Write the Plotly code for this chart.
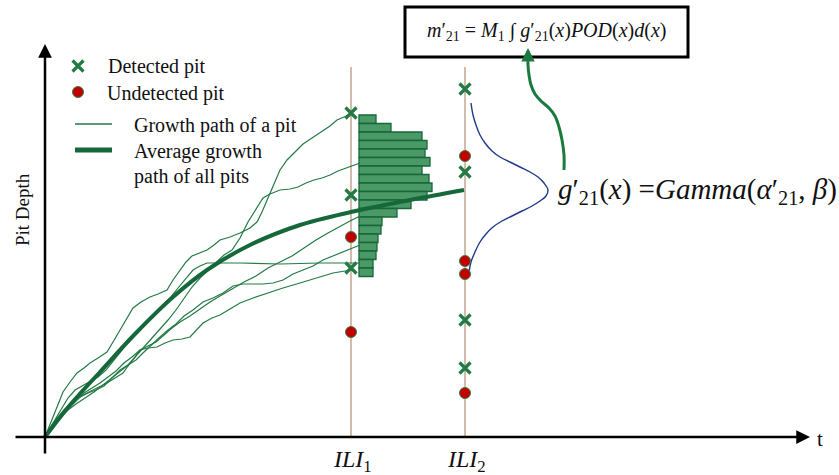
import numpy as np
import plotly.graph_objects as go

# ---- reference frame (origin of the axes) ----
T0, D0 = 45, 437
def tx(v):
    return np.asarray(v, dtype=float) - T0
def dy(v):
    return D0 - np.asarray(v, dtype=float)

# ---- inspection times ----
ili_labels = ["ILI<sub>1</sub>", "ILI<sub>2</sub>"]
ili_t_px = [351, 465]

# ---- pits observed at each inspection (depth readings) ----
ili1_detected = [113, 195, 268]
ili1_undetected = [237, 332]
ili2_detected = [89, 172, 320, 368]
ili2_undetected = [156, 261, 274, 393]

# ---- individual growth paths ----
p1_t = [45,52,58,63,70,77,84,90,98,107,113,120,127,133,141,150,158,167,173,180,186,192,200,207,214,220,230,240,250,257,262,267,273,280,287,295,303,312,320,330,337,345,351]
p1_d = [437,420,405,392,382,373,368,363,358,352,342,330,318,308,302,297,294,290,280,270,262,256,253,250,245,240,237,233,228,222,212,200,185,170,160,152,144,138,133,126,120,117,114]
p2_t = [45,53,60,68,76,85,94,103,112,120,128,136,144,152,160,168,176,184,192,200,208,216,224,232,240,248,257,263,270,280,290,298,306,314,322,330,338,346,352,360]
p2_d = [437,428,418,410,404,398,392,385,378,372,365,356,347,339,330,320,310,298,287,278,270,262,255,250,238,222,207,198,194,190,189,187,183,180,178,175,171,168,166,163]
p3_t = [45,52,60,68,76,84,92,100,108,116,124,132,140,148,156,164,172,180,190,200,210,220,232,244,256,268,280,292,304,316,328,340,350,360]
p3_d = [437,426,416,408,400,393,388,383,377,371,363,357,350,346,342,335,328,322,316,309,302,296,289,282,276,268,262,256,248,240,233,226,221,216]
p4_t = [45,50,56,62,68,75,82,90,98,106,114,122,130,138,146,154,162,170,178,186,193,200,207,240,280,320,360]
p4_d = [437,428,418,408,398,390,386,382,377,370,360,350,340,330,322,314,306,298,288,278,270,266,263,263,264,263,263]
p5_t = [45,50,57,64,72,80,88,96,104,112,120,128,136,144,152,160,168,176,184,193,203,213,223,233,243,253,263,273,283,293,303,313,323,333,343,352,360]
p5_d = [437,428,418,410,402,397,393,390,386,378,370,365,360,352,344,337,330,324,316,310,302,298,293,286,284,284,284,283,280,274,270,266,260,256,252,249,245]
p6_t = [45,49,53,60,67,74,80,87,93,100,107,115,123,128,133,140,148,157,165,173,182,190,197,203,212,220,230,240,253,267,283,300,316,333,345,353]
p6_d = [437,430,423,416,410,403,397,393,390,386,383,378,373,366,360,350,348,347,343,340,339,337,330,323,318,315,309,303,298,293,288,283,278,273,271,270]

# ---- average growth path ----
avg_t = [45,70,100,135,173,207,250,300,351,410,464]
avg_d = [437,405,372,334,297,270,245,225,212,200,190]

# ---- histogram of depths at ILI1 ----
hist_top = 115
hist_bin = 8.5
hist_base = 359
hist_counts = [17,32,63,68,66,71,63,70,73,68,52,38,23,22,19,18,17,14,14]

# ---- gamma density at ILI2 ----
pdf_val = [471,473,476,480,485,492,500,510,520,530,538,544,548,546,540,532,522,512,502,493,486,480,475,471,469]
pdf_d = [103,115,125,135,143,151,157,162,167,172,177,183,190,196,201,206,211,216,221,227,234,242,252,262,272]

# ---- callout connector ----
call_t = [564,564,562,559,555,549,541,535,531,529,528,528]
call_d = [170,155,140,127,116,108,101,94,85,75,65,58]

GREEN = "#237a45"
DKGREEN = "#15683a"
RED = "#c00000"
TAN = "#c5a68e"
SERIF = "Liberation Serif, Times New Roman, Times, serif"

fig = go.Figure()

# inspection lines
for t in ili_t_px:
    fig.add_trace(go.Scatter(x=tx([t, t]), y=dy([67, D0]), mode="lines",
                             line=dict(color=TAN, width=1.5), hoverinfo="skip"))

# histogram
centers = [hist_top + hist_bin * (i + 0.5) for i in range(len(hist_counts))]
fig.add_trace(go.Bar(x=hist_counts, y=dy(centers), base=float(tx(hist_base)),
                     orientation="h", width=hist_bin,
                     marker=dict(color="#4b9966", line=dict(color="#17683a", width=1.3))))

# thin growth paths
for pt, pd_ in [(p1_t, p1_d), (p2_t, p2_d), (p3_t, p3_d), (p4_t, p4_d), (p5_t, p5_d), (p6_t, p6_d)]:
    fig.add_trace(go.Scatter(x=tx(pt), y=dy(pd_), mode="lines",
                             line=dict(color=GREEN, width=1.2), hoverinfo="skip"))

# average path
fig.add_trace(go.Scatter(x=tx(avg_t), y=dy(avg_d), mode="lines", line_shape="spline",
                         line=dict(color=DKGREEN, width=4), hoverinfo="skip"))

# gamma pdf
fig.add_trace(go.Scatter(x=tx(pdf_val), y=dy(pdf_d), mode="lines", line_shape="spline",
                         line=dict(color="#1f3a8a", width=1.4), hoverinfo="skip"))

# callout connector
fig.add_trace(go.Scatter(x=tx(call_t), y=dy(call_d), mode="lines", line_shape="spline",
                         line=dict(color="#1c7a40", width=3), hoverinfo="skip"))

xmark = dict(symbol="x-thin", size=11, line=dict(color=GREEN, width=3.2), color=GREEN)
dot = dict(symbol="circle", size=11, color=RED, line=dict(color="#3a7d44", width=1))

for t, det, und in [(ili_t_px[0], ili1_detected, ili1_undetected),
                    (ili_t_px[1], ili2_detected, ili2_undetected)]:
    fig.add_trace(go.Scatter(x=tx([t] * len(det)), y=dy(det), mode="markers", marker=xmark))
    fig.add_trace(go.Scatter(x=tx([t] * len(und)), y=dy(und), mode="markers", marker=dot))

# manual legend
fig.add_trace(go.Scatter(x=tx([78]), y=dy([66]), mode="markers", marker=xmark))
fig.add_trace(go.Scatter(x=tx([78]), y=dy([92]), mode="markers", marker=dot))
fig.add_trace(go.Scatter(x=tx([75, 112]), y=dy([124, 124]), mode="lines", line=dict(color=GREEN, width=1.3)))
fig.add_trace(go.Scatter(x=tx([75, 112]), y=dy([150, 150]), mode="lines", line=dict(color=DKGREEN, width=5)))

ann = []
def text(px, py, s, size, xanchor="left", angle=0, family=SERIF):
    ann.append(dict(x=float(tx(px)), y=float(dy(py)), xref="x", yref="y", text=s, showarrow=False,
                    xanchor=xanchor, yanchor="middle", textangle=angle,
                    font=dict(family=family, size=size, color="#111")))

text(106, 66, "Detected pit", 20)
text(105, 93, "Undetected pit", 20)
text(132, 125, "Growth path of a pit", 20)
text(132, 151, "Average growth", 20)
text(132, 176, "path of all pits", 20)
text(22, 210, "Pit Depth", 19, xanchor="center", angle=-90)
text(820, 439, "t", 21, xanchor="center")
for lab, t in zip(ili_labels, ili_t_px):
    text(t + 1, 461, "<i>ILI</i>" + lab[3:], 24, xanchor="center")
text(546, 31, "<i>m</i>′<sub>21</sub> = <i>M</i><sub>1</sub> ∫ <i>g</i>′<sub>21</sub>(<i>x</i>)<i>POD</i>(<i>x</i>)<i>d</i>(<i>x</i>)",
     20, xanchor="center")
text(556, 191, "<i>g</i>′<sub>21</sub>(<i>x</i>) =<i>Gamma</i>(<i>α</i>′<sub>21</sub>, <i>β</i>)", 29)

# axis arrows and callout arrow head
ann.append(dict(x=float(tx(45)), y=float(dy(44)), ax=float(tx(45)), ay=float(dy(455)), xref="x", yref="y",
                axref="x", ayref="y", text="", showarrow=True, arrowhead=2, arrowsize=1.1,
                arrowwidth=2.5, arrowcolor="#000"))
ann.append(dict(x=float(tx(810)), y=float(dy(437)), ax=float(tx(14)), ay=float(dy(437)), xref="x", yref="y",
                axref="x", ayref="y", text="", showarrow=True, arrowhead=2, arrowsize=1.1,
                arrowwidth=2.5, arrowcolor="#000"))
ann.append(dict(x=float(tx(528)), y=float(dy(48)), ax=float(tx(528)), ay=float(dy(60)), xref="x", yref="y",
                axref="x", ayref="y", text="", showarrow=True, arrowhead=2, arrowsize=0.9,
                arrowwidth=3, arrowcolor="#1c7a40"))

fig.update_layout(
    width=839, height=475, autosize=False,
    margin=dict(l=0, r=0, t=0, b=0),
    paper_bgcolor="white", plot_bgcolor="white",
    showlegend=False,
    annotations=ann,
    shapes=[dict(type="rect", xref="x", yref="y", x0=float(tx(405)), x1=float(tx(688)),
                 y0=float(dy(57)), y1=float(dy(7)), line=dict(color="#000", width=3),
                 fillcolor="rgba(0,0,0,0)", layer="above")],
    xaxis=dict(range=[float(tx(0)), float(tx(839))], visible=False, fixedrange=True),
    yaxis=dict(range=[float(dy(475)), float(dy(0))], visible=False, fixedrange=True),
)

fig.write_html("out.html")
